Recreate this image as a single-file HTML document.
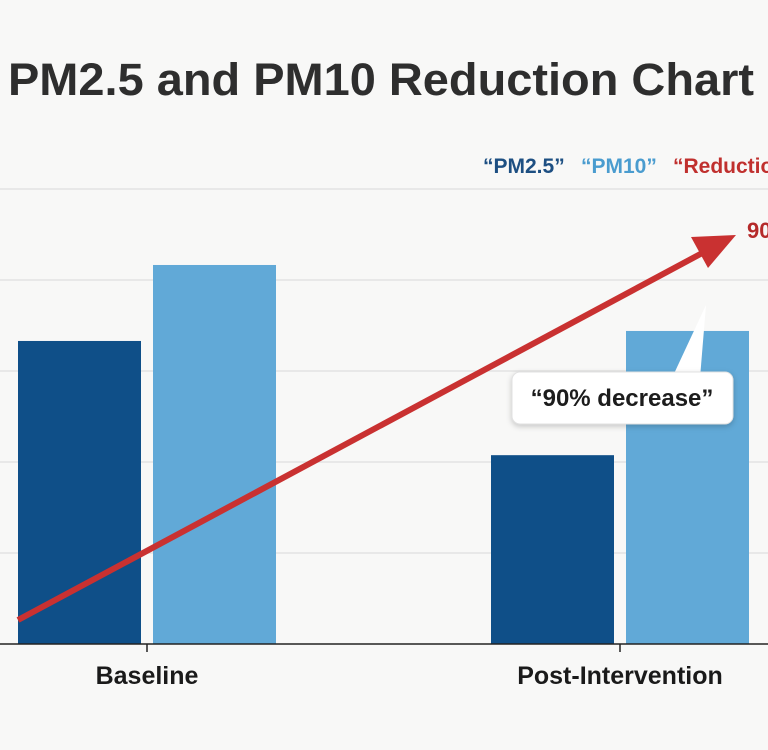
<!DOCTYPE html>
<html><head><meta charset="utf-8"><style>
html,body{margin:0;padding:0;background:#f8f8f7;}
svg{display:block;font-family:"Liberation Sans",Arial,sans-serif;}
</style></head><body>
<svg width="768" height="750" viewBox="0 0 768 750">
<rect width="768" height="750" fill="#f8f8f7"/>
<text x="8" y="95" font-size="45" font-weight="bold" fill="#2e2e2e" textLength="746" lengthAdjust="spacingAndGlyphs">PM2.5 and PM10 Reduction Chart</text>
<g id="grid"></g>
<g id="bars"></g>
<line x1="0" y1="644" x2="768" y2="644" stroke="#222" stroke-width="1.5"/>
<g id="xlabels"></g>
<g font-size="21" font-weight="bold">
<text x="483" y="173" fill="#1d4f82">“PM2.5”</text>
<text x="581" y="173" fill="#4a9ccf">“PM10”</text>
<text x="673" y="173" fill="#c0302e">“Reduction”</text>
</g>
<g>
<line x1="18" y1="620" x2="706" y2="251" stroke="#c93131" stroke-width="6"/>
<polygon points="736,235 691,237 708,268" fill="#c93131"/>
</g>
<text x="747" y="238" font-size="22" font-weight="bold" fill="#b52a2a">90%</text>
<g>
<polygon points="706,305 672,378 700,378" fill="#fff"/>
<rect x="512" y="372" width="221" height="52" rx="8" fill="#fff" stroke="#e2e2e2" style="filter:drop-shadow(0 2px 3px rgba(0,0,0,.2))"/>
<text x="622" y="406" font-size="24" font-weight="bold" fill="#1c1c1c" text-anchor="middle">“90% decrease”</text>
</g>
</svg>
<script>
const categories = ["Baseline", "Post-Intervention"];
const pm25 = [66.6, 41.5];
const pm10 = [83.3, 68.8];
const gridTicks = [20, 40, 60, 80, 100];
const NS = "http://www.w3.org/2000/svg";
const y0 = 644, pxPerUnit = 4.55;
function yScale(v){ return y0 - v * pxPerUnit; }
const groupCenters = [147, 620];
function xScale(i){ return groupCenters[i]; }
const barW = 123, gap = 6;
const grid = document.getElementById("grid");
gridTicks.forEach(t => {
  const l = document.createElementNS(NS, "line");
  l.setAttribute("x1", 0); l.setAttribute("x2", 768);
  l.setAttribute("y1", yScale(t)); l.setAttribute("y2", yScale(t));
  l.setAttribute("stroke", "#e3e3e3"); l.setAttribute("stroke-width", 1.5);
  
  
  grid.appendChild(l);
});
const bars = document.getElementById("bars");
const xl = document.getElementById("xlabels");
categories.forEach((c, i) => {
  const cx = xScale(i);
  [[pm25[i], cx - gap - barW, "#0f4f88", "bar-pm25-"], [pm10[i], cx + gap, "#61a9d7", "bar-pm10-"]].forEach(([v, x, col, nm]) => {
    const r = document.createElementNS(NS, "rect");
    r.setAttribute("x", x); r.setAttribute("width", barW);
    r.setAttribute("y", yScale(v)); r.setAttribute("height", y0 - yScale(v));
    r.setAttribute("fill", col);
    
    
    bars.appendChild(r);
  });
  const tk = document.createElementNS(NS, "line");
  tk.setAttribute("x1", cx); tk.setAttribute("x2", cx); tk.setAttribute("y1", 644); tk.setAttribute("y2", 652);
  tk.setAttribute("stroke", "#222"); tk.setAttribute("stroke-width", 1.5);
  
  
  xl.appendChild(tk);
  const t = document.createElementNS(NS, "text");
  t.setAttribute("x", cx); t.setAttribute("y", 684);
  t.setAttribute("text-anchor", "middle"); t.setAttribute("font-size", 25);
  t.setAttribute("font-weight", "bold"); t.setAttribute("fill", "#1a1a1a");
  t.textContent = c;
  
  
  xl.appendChild(t);
});
</script>
</body></html>
